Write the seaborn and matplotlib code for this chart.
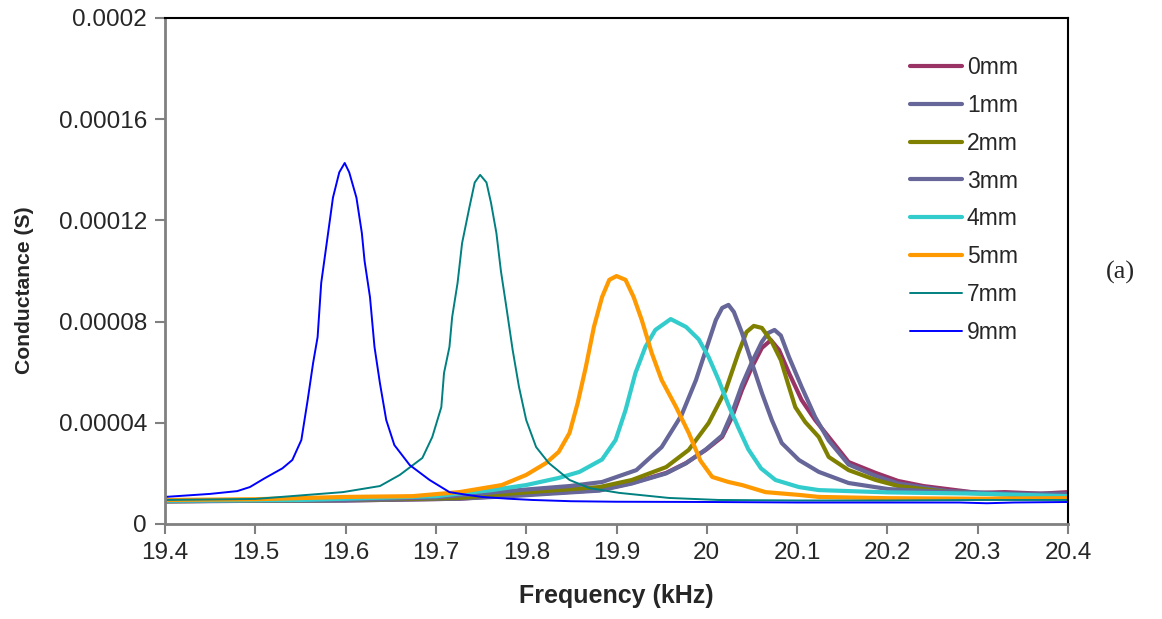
import numpy as np
import pandas as pd
import matplotlib
matplotlib.use("Agg")
import matplotlib.pyplot as plt
import seaborn as sns

# ---- data (conductance in units of 1e-5 S) ----
f0 = [19.40, 19.60, 19.726, 19.792, 19.881, 19.917, 19.955, 19.977, 19.999, 20.017, 20.028, 20.039, 20.05, 20.061, 20.071, 20.08, 20.091, 20.105, 20.12, 20.135, 20.157, 20.187, 20.212, 20.24, 20.30, 20.33, 20.37, 20.4]
g0 = [0.9, 0.93, 1.0, 1.15, 1.34, 1.62, 2.02, 2.41, 2.93, 3.44, 4.23, 5.3, 6.2, 6.96, 7.27, 6.88, 5.97, 4.9, 4.11, 3.44, 2.45, 2.02, 1.7, 1.5, 1.23, 1.26, 1.2, 1.26]

f1 = [19.40, 19.60, 19.726, 19.792, 19.881, 19.917, 19.955, 19.977, 19.999, 20.017, 20.028, 20.039, 20.05, 20.061, 20.068, 20.075, 20.082, 20.091, 20.105, 20.12, 20.135, 20.157, 20.187, 20.212, 20.267, 20.33, 20.4]
g1 = [0.9, 0.93, 1.0, 1.12, 1.32, 1.6, 2.0, 2.4, 2.95, 3.5, 4.4, 5.5, 6.4, 7.2, 7.55, 7.67, 7.45, 6.6, 5.42, 4.23, 3.3, 2.35, 1.9, 1.6, 1.3, 1.2, 1.15]

f2 = [19.40, 19.60, 19.726, 19.792, 19.881, 19.917, 19.955, 19.98, 20.002, 20.021, 20.035, 20.044, 20.052, 20.061, 20.072, 20.082, 20.091, 20.098, 20.109, 20.124, 20.135, 20.157, 20.187, 20.212, 20.267, 20.341, 20.4]
g2 = [0.9, 0.95, 1.03, 1.23, 1.46, 1.74, 2.25, 2.93, 3.99, 5.3, 6.76, 7.59, 7.83, 7.75, 7.2, 6.48, 5.42, 4.62, 4.03, 3.44, 2.65, 2.13, 1.74, 1.5, 1.26, 1.15, 1.12]

f3 = [19.40, 19.60, 19.70, 19.792, 19.848, 19.884, 19.922, 19.95, 19.972, 19.988, 19.999, 20.01, 20.017, 20.024, 20.03, 20.039, 20.05, 20.061, 20.072, 20.083, 20.102, 20.124, 20.157, 20.201, 20.267, 20.33, 20.4]
g3 = [0.9, 0.95, 1.05, 1.34, 1.5, 1.66, 2.13, 3.04, 4.3, 5.69, 6.88, 8.06, 8.54, 8.66, 8.38, 7.55, 6.36, 5.18, 4.11, 3.2, 2.53, 2.06, 1.62, 1.38, 1.26, 1.2, 1.2]

f4 = [19.40, 19.55, 19.70, 19.762, 19.80, 19.836, 19.859, 19.884, 19.899, 19.91, 19.921, 19.932, 19.943, 19.96, 19.977, 19.991, 20.002, 20.013, 20.024, 20.035, 20.046, 20.06, 20.076, 20.102, 20.124, 20.2, 20.3, 20.4]
g4 = [0.92, 0.95, 1.1, 1.34, 1.54, 1.82, 2.06, 2.55, 3.32, 4.5, 5.97, 7.0, 7.67, 8.1, 7.79, 7.3, 6.6, 5.7, 4.7, 3.8, 2.95, 2.2, 1.74, 1.46, 1.34, 1.25, 1.2, 1.1]

f5 = [19.40, 19.50, 19.60, 19.674, 19.726, 19.773, 19.80, 19.822, 19.836, 19.848, 19.857, 19.866, 19.875, 19.884, 19.892, 19.90, 19.91, 19.919, 19.928, 19.939, 19.95, 19.966, 19.98, 19.993, 20.006, 20.024, 20.039, 20.065, 20.102, 20.124, 20.2, 20.3, 20.4]
g5 = [0.95, 0.98, 1.07, 1.1, 1.26, 1.54, 1.94, 2.41, 2.85, 3.6, 4.78, 6.2, 7.79, 8.97, 9.65, 9.8, 9.65, 8.97, 8.06, 6.76, 5.69, 4.62, 3.6, 2.5, 1.86, 1.66, 1.54, 1.26, 1.15, 1.07, 1.02, 1.0, 1.02]

f7 = [19.40, 19.50, 19.597, 19.638, 19.66, 19.685, 19.696, 19.706, 19.709, 19.715, 19.718, 19.724, 19.729, 19.737, 19.743, 19.749, 19.756, 19.761, 19.767, 19.772, 19.778, 19.785, 19.792, 19.80, 19.811, 19.825, 19.848, 19.87, 19.903, 19.958, 20.013, 20.1, 20.2, 20.3, 20.4]
g7 = [0.95, 0.99, 1.26, 1.5, 1.94, 2.61, 3.44, 4.62, 5.97, 7.0, 8.18, 9.53, 11.1, 12.5, 13.5, 13.8, 13.5, 12.7, 11.5, 10.0, 8.58, 6.88, 5.42, 4.11, 3.04, 2.41, 1.74, 1.42, 1.23, 1.03, 0.95, 0.93, 0.93, 0.95, 0.95]

f9 = [19.40, 19.45, 19.48, 19.494, 19.51, 19.53, 19.541, 19.551, 19.558, 19.564, 19.569, 19.573, 19.580, 19.586, 19.593, 19.599, 19.604, 19.612, 19.618, 19.621, 19.627, 19.632, 19.638, 19.645, 19.654, 19.671, 19.693, 19.715, 19.735, 19.751, 19.78, 19.807, 19.85, 19.9, 20.0, 20.1, 20.2, 20.28, 20.31, 20.34, 20.4]
g9 = [1.07, 1.19, 1.30, 1.46, 1.8, 2.2, 2.53, 3.32, 4.9, 6.36, 7.39, 9.53, 11.34, 12.9, 13.9, 14.27, 13.9, 12.9, 11.5, 10.4, 8.97, 7.0, 5.57, 4.11, 3.12, 2.33, 1.74, 1.26, 1.15, 1.07, 1.0, 0.95, 0.9, 0.88, 0.87, 0.85, 0.85, 0.85, 0.82, 0.85, 0.87]

labels = ["0mm", "1mm", "2mm", "3mm", "4mm", "5mm", "7mm", "9mm"]
freqs = [f0, f1, f2, f3, f4, f5, f7, f9]
conds = [g0, g1, g2, g3, g4, g5, g7, g9]

x_ticks = [19.4, 19.5, 19.6, 19.7, 19.8, 19.9, 20.0, 20.1, 20.2, 20.3, 20.4]
x_tick_labels = ["19.4", "19.5", "19.6", "19.7", "19.8", "19.9", "20", "20.1", "20.2", "20.3", "20.4"]
y_ticks = [0, 0.00004, 0.00008, 0.00012, 0.00016, 0.0002]
y_tick_labels = ["0", "0.00004", "0.00008", "0.00012", "0.00016", "0.0002"]

# ---- styles ----
colors = ["#993366", "#666699", "#808000", "#666699", "#33CCCC", "#FF9900", "#008080", "#0000FF"]
widths = [3.0, 3.0, 3.0, 3.0, 3.0, 3.0, 1.4, 1.4]

sns.set_style("white")
plt.rcParams["font.family"] = ["Liberation Sans", "DejaVu Sans"]

rows = []
for lab, fx, gy in zip(labels, freqs, conds):
    for a, b in zip(fx, gy):
        rows.append((lab, a, b * 1e-5))
df = pd.DataFrame(rows, columns=["series", "freq", "cond"])

fig = plt.figure(figsize=(11.62, 6.19), dpi=100)
ax = fig.add_axes([165 / 1162, 1 - 524 / 619, (1068 - 165) / 1162, (524 - 18) / 619])

for lab, col, lw in zip(labels, colors, widths):
    sub = df[df["series"] == lab]
    sns.lineplot(data=sub, x="freq", y="cond", ax=ax, color=col, linewidth=lw,
                 label=lab, sort=False, estimator=None)

ax.set_xlim(19.4, 20.4)
ax.set_ylim(0, 0.0002)
ax.set_xticks(x_ticks)
ax.set_xticklabels(x_tick_labels)
ax.set_yticks(y_ticks)
ax.set_yticklabels(y_tick_labels)
ax.tick_params(axis="both", direction="out", length=7, width=1.5, color="#808080",
               labelsize=17.5, pad=6, left=True, bottom=True)
ax.set_xlabel("Frequency (kHz)", fontsize=18, fontweight="bold", labelpad=14)
ax.set_ylabel("Conductance (S)", fontsize=15.2, fontweight="bold")
ax.yaxis.set_label_coords(-0.145, 0.4625)

for s in ["left", "bottom"]:
    ax.spines[s].set_color("#808080")
    ax.spines[s].set_linewidth(2)
for s in ["top", "right"]:
    ax.spines[s].set_color("black")
    ax.spines[s].set_linewidth(1.5)

leg = ax.legend(loc="upper left", bbox_to_anchor=(0.802, 0.966), frameon=False,
                fontsize=16.5, handlelength=2.27, handletextpad=0.22, labelspacing=0.65)

fig.text(1106 / 1162, 1 - 272 / 619, "(a)", fontsize=19, ha="left", va="center",
         family=["Liberation Serif", "DejaVu Serif"])

fig.savefig("out.png", dpi=100)
